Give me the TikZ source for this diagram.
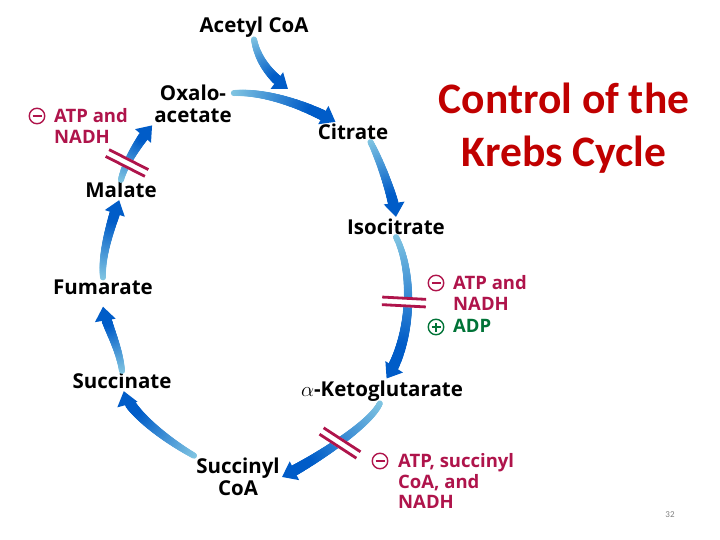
\documentclass[tikz,border=0pt]{standalone}
\usepackage{fontspec}
\setmainfont{Open Sans}
\newfontfamily\titlefont{Carlito}
\usetikzlibrary{arrows.meta,decorations.markings,positioning}

\definecolor{dkblue}{RGB}{0,92,200}
\definecolor{ltblue}{RGB}{130,198,226}
\definecolor{inhib}{RGB}{175,20,75}
\definecolor{activ}{RGB}{0,115,55}
\definecolor{titlered}{RGB}{192,0,0}

\newcommand{\regminus}{\makebox[0pt]{\rule[-0.7pt]{9pt}{1.6pt}}}
\newcommand{\regplus}{\makebox[0pt]{\rule[-0.8pt]{9pt}{1.6pt}}\makebox[0pt]{\rule[-4.5pt]{1.6pt}{9pt}}}

\tikzset{
  metab/.style={font=\fontsize{20.5}{22.5}\selectfont\bfseries, align=center, inner sep=2pt},
  reg/.style={font=\fontsize{18.5}{20.5}\selectfont\bfseries, align=left, inner sep=0pt, anchor=west},
  sign/.style={circle, draw, line width=1.4pt, minimum size=15.5pt, inner sep=0pt},
  flow/.style={draw=dkblue, line width=5pt, -{Triangle[width=20pt,length=14pt]},
    postaction={decorate, decoration={markings,
      mark=between positions 0 and -14pt step 0.7pt with {
        \pgfmathsetmacro\fcfr{\pgfkeysvalueof{/pgf/decoration/mark info/distance from start}/\pgfdecoratedpathlength}
        \pgfmathsetmacro\fcpct{min(100,130*\fcfr)}
        \pgfmathsetmacro\fcrad{3+2.8*\fcfr}
        \fill[dkblue!\fcpct!ltblue] (0,0) circle (\fcrad pt);}}}},
  blockbar/.pic={
    \fill[white] (-22,-5) rectangle (22,5);
    \draw[inhib, line width=2.8pt] (-22,-3.8) -- (22,-3.8) (-22,3.8) -- (22,3.8);
  }
}

\begin{document}
\begin{tikzpicture}[x=1pt, y=-1pt]
    \useasboundingbox (0,0) rectangle (720,540);

    % Tieu de
    \node[font=\titlefont\bfseries\fontsize{43.5}{53}\selectfont, text=titlered, align=center] (title) at (564,128) {Control of the\\Krebs Cycle};
    \node[font=\titlefont\fontsize{9}{10}\selectfont, text=gray] (pgnum) at (670,515) {32};

    % Cac chat trong chu trinh
    \node[metab] (acetyl) at (254,27) {Acetyl CoA};
    \node[metab] (oxalo) at (193,104) {Oxalo-\\acetate};
    \node[metab] (citrate) at (353,132) {Citrate};
    \node[metab] (isocitrate) at (396,227) {Isocitrate};
    \node[metab] (akg) at (382,391) {$\alpha$-Ketoglutarate};
    \node[metab] (succoa) at (238,477) {Succinyl\\CoA};
    \node[metab] (succinate) at (122,381) {Succinate};
    \node[metab] (fumarate) at (103,287) {Fumarate};
    \node[metab] (malate) at (121,190) {Malate};
    \coordinate (join) at (288,89);

    % Mui ten
    \draw[flow] (acetyl.south) .. controls +(4,22) and +(-16,-12) .. (join);
    \draw[flow] (oxalo.15) .. controls +(35,-2) and +(-25,-14) .. (citrate.150);
    \draw[flow] (citrate.-30) .. controls +(8,15) and +(-3,-22) .. (isocitrate.north);
    \draw[flow] (isocitrate.south) .. controls +(18,35) and +(26,-40) .. (akg.70);
    \draw[flow] (akg.-100) .. controls +(-10,22) and +(28,-14) .. (succoa.east);
    \draw[flow] (succoa.north west) .. controls +(-25,-14) and +(6,22) .. (succinate.-80);
    \draw[flow] (succinate.north) .. controls +(-3,-25) and +(3,18) .. ([yshift=-10pt]fumarate.south);
    \draw[flow] (fumarate.north) .. controls +(-2,-25) and +(-6,18) .. (malate.-100);
    \draw[flow] (malate.north) .. controls +(3,-15) and +(-12,14) .. (oxalo.south west);

    % Diem dieu hoa
    \pic[rotate=-27] at (127,163) {blockbar};
    \pic[rotate=-3] at (404,302) {blockbar};
    \pic[rotate=-33] at (340,443) {blockbar};

    \node[reg, text=inhib] (inhmal) at (54,126) {ATP and\\NADH};
    \node[sign, draw=inhib, text=inhib] (sgmal) at (37,116) {\regminus};
    \node[reg, text=inhib] (inhiso) at (453,293) {ATP and\\NADH};
    \node[sign, draw=inhib, text=inhib] (sgiso) at (436,283) {\regminus};
    \node[reg, text=activ] (actiso) at (453,326) {ADP};
    \node[sign, draw=activ, text=activ] (sgadp) at (436,327) {\regplus};
    \node[reg, text=inhib] (inhakg) at (398,481) {ATP, succinyl\\CoA, and\\NADH};
    \node[sign, draw=inhib, text=inhib] (sgakg) at (380,461) {\regminus};
\end{tikzpicture}
\end{document}
